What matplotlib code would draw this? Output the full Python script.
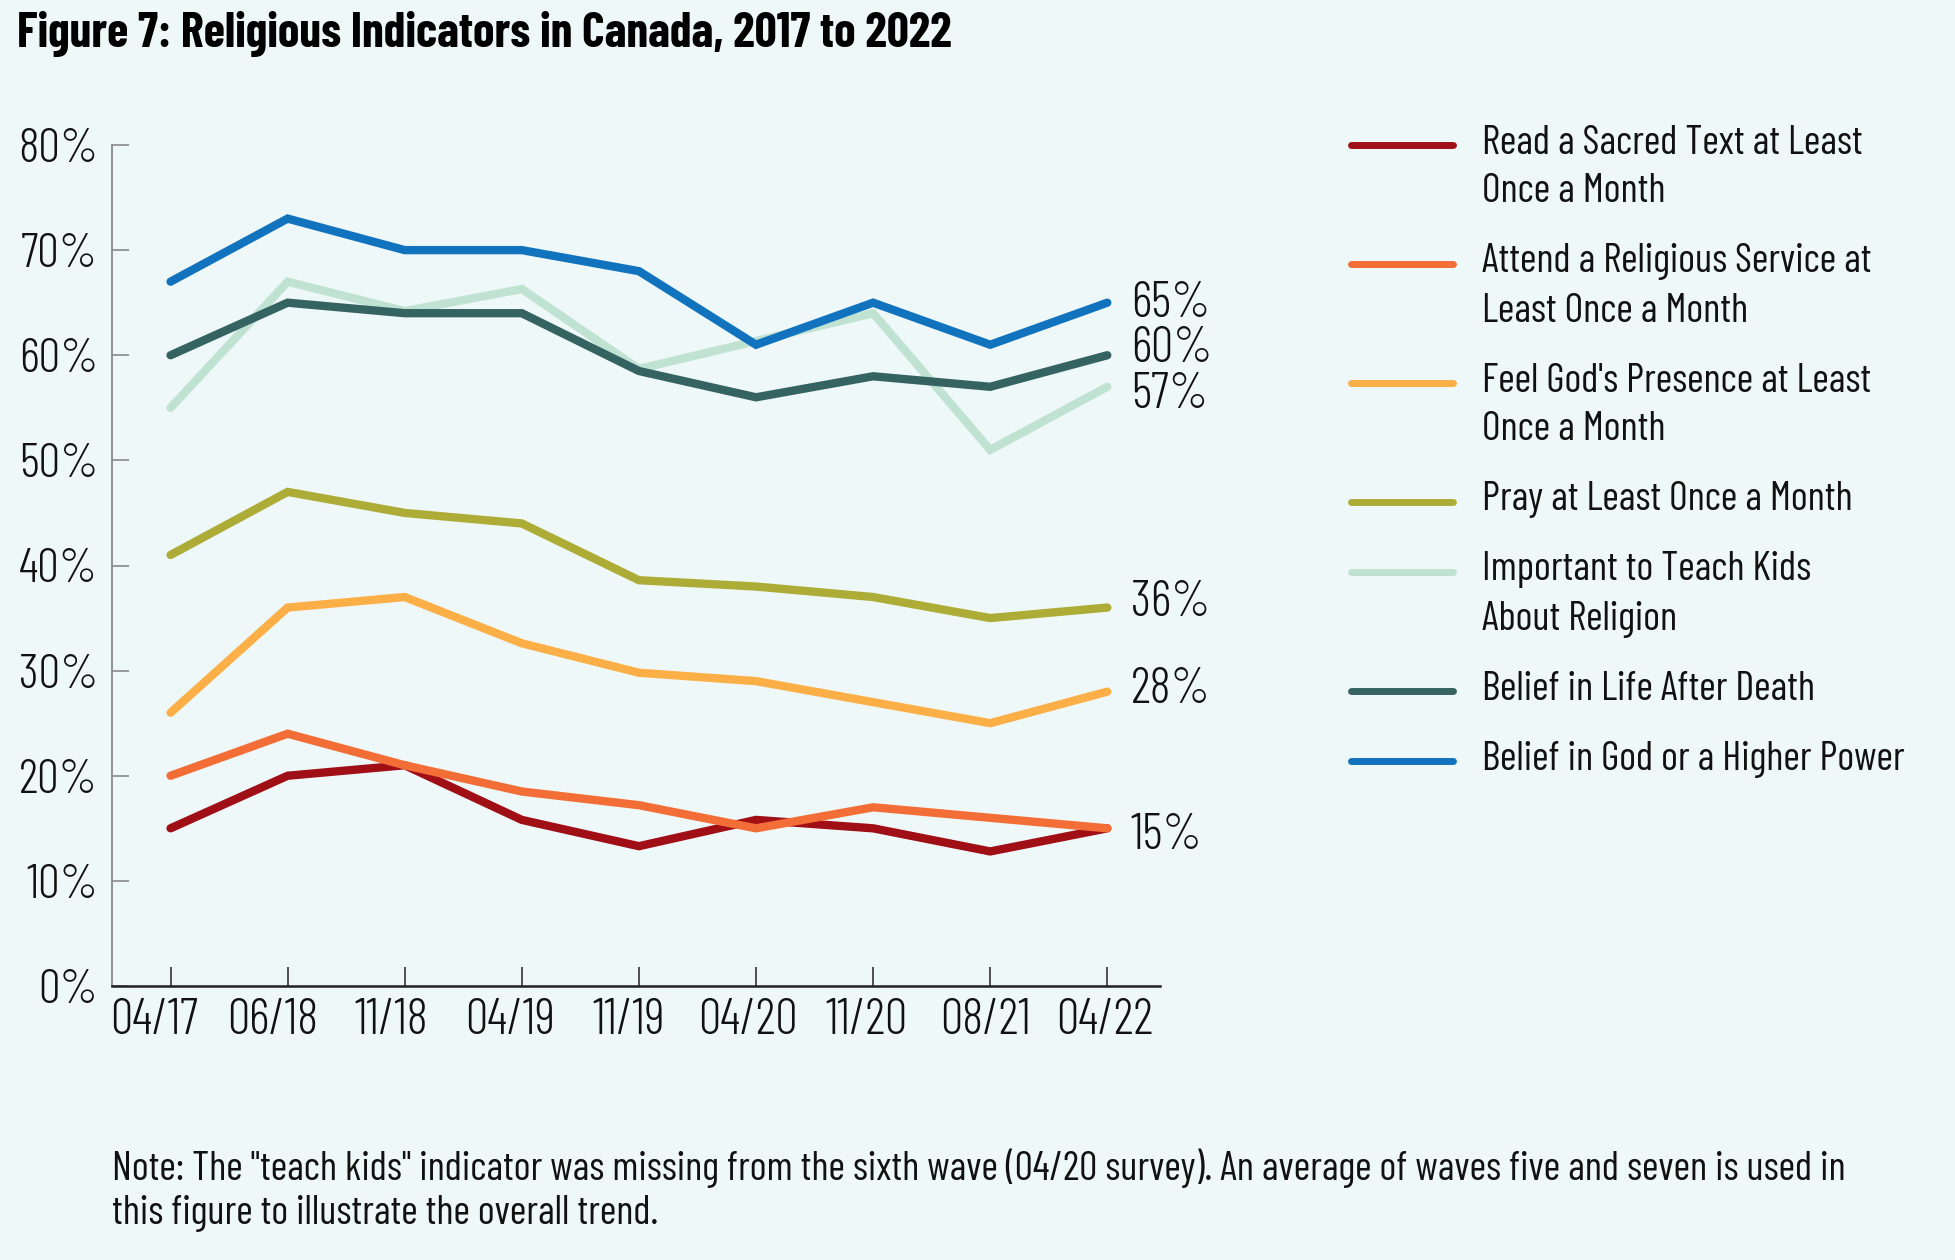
import matplotlib
matplotlib.use('Agg')
import matplotlib.pyplot as plt
from matplotlib.lines import Line2D
from matplotlib.transforms import ScaledTranslation

# survey waves
waves = ['04/17', '06/18', '11/18', '04/19', '11/19', '04/20', '11/20', '08/21', '04/22']

# % of Canadians
read_text = [15, 20, 21, 15.8, 13.3, 15.8, 15, 12.8, 15]
attend_service = [20, 24, 21, 18.5, 17.2, 15, 17, 16, 15]
feel_presence = [26, 36, 37, 32.6, 29.8, 29, 27, 25, 28]
pray = [41, 47, 45, 44, 38.6, 38, 37, 35, 36]
teach_kids = [55, 67, 64.2, 66.3, 58.7, 61.35, 64, 51, 57]  # 04/20 = avg of waves 5 and 7
life_after_death = [60, 65, 64, 64, 58.5, 56, 58, 57, 60]
belief_god = [67, 73, 70, 70, 68, 61, 65, 61, 65]

labels = ["Read a Sacred Text at Least\nOnce a Month",
          "Attend a Religious Service at\nLeast Once a Month",
          "Feel God's Presence at Least\nOnce a Month",
          "Pray at Least Once a Month",
          "Important to Teach Kids\nAbout Religion",
          "Belief in Life After Death",
          "Belief in God or a Higher Power"]
series = [read_text, attend_service, feel_presence, pray, teach_kids, life_after_death, belief_god]
colors = ['#A00E16', '#F36E36', '#FBAF46', '#ADAC37', '#C0E2D2', '#356361', '#1173BD']

note = ('Note: The "teach kids" indicator was missing from the sixth wave (04/20 survey). '
        'An average of waves five and seven is used in\nthis figure to illustrate the overall trend.')

bg = '#EFF8F8'
font = 'Barlow Condensed'
W, H = 1956, 1260

fig = plt.figure(figsize=(W / 100, H / 100), dpi=100, facecolor=bg)
ax = fig.add_axes([112 / W, 1 - 986 / H, (1160 - 112) / W, (986 - 145) / H])
ax.set_facecolor(bg)

x = list(range(len(waves)))
for vals, c in zip(series, colors):
    ax.plot(x, vals, color=c, lw=6, solid_capstyle='round', solid_joinstyle='miter')

ax.set_xlim(-0.5, 8.45)
ax.set_ylim(0, 80)
ax.set_yticks(range(0, 81, 10))
ax.set_yticklabels(['%d%%' % v for v in range(0, 81, 10)])
ax.set_xticks(x)
ax.set_xticklabels(waves)

for s in ['top', 'right']:
    ax.spines[s].set_visible(False)
ax.spines['left'].set_color('#8a8a8a')
ax.spines['left'].set_linewidth(1.3)
ax.spines['bottom'].set_color('#222222')
ax.spines['bottom'].set_linewidth(1.8)

ax.tick_params(axis='y', direction='in', length=12, width=1.2, color='#8a8a8a', pad=10)
ax.tick_params(axis='x', direction='in', length=14, width=1.2, color='#333333', pad=9)
for t in ax.get_yticklabels():
    t.set_fontfamily(font)
    t.set_fontweight(300)
    t.set_fontsize(35)
    t.set_color('#111111')
# x labels sit a little left of their ticks in the original, more so at the start
n = len(waves)
for i, t in enumerate(ax.get_xticklabels()):
    t.set_fontfamily(font)
    t.set_fontweight(300)
    t.set_fontsize(36)
    t.set_color('#111111')
    dx = -0.03 - 0.017 * (n - 1 - i)
    t.set_transform(t.get_transform() + ScaledTranslation(dx, 0, fig.dpi_scale_trans))

# end-of-line value labels (one per distinct final value)
label_nudge = {65: 3, 60: 8, 57: -2, 36: 7, 28: 4.5, 15: -2}
seen = set()
for vals in series:
    v = vals[-1]
    if v in seen:
        continue
    seen.add(v)
    ax.annotate('%d%%' % v, xy=(x[-1], v), xytext=(17, label_nudge.get(v, 0)),
                textcoords='offset points', ha='left', va='center_baseline',
                fontsize=36, fontweight=300, family=font, color='#111111')

# legend on the right, one text per line so the handle sits on the first line
y = 145
for lab, c in zip(labels, colors):
    fig.add_artist(Line2D([1351 / W, 1453 / W], [1 - y / H, 1 - y / H], color=c, lw=5,
                          solid_capstyle='round', transform=fig.transFigure))
    for k, part in enumerate(lab.split('\n')):
        fig.text(1482 / W, 1 - (y + 8.5 + k * 49) / H, part, ha='left', va='baseline',
                 fontsize=29, family=font, color='#111111')
    y += lab.count('\n') * 49 + 49 + 21

fig.text(17 / W, 1 - 47 / H, 'Figure 7: Religious Indicators in Canada, 2017 to 2022',
         ha='left', va='baseline', fontsize=35, fontweight='bold', family=font, color='#000000')

for k, part in enumerate(note.split('\n')):
    fig.text(112 / W, 1 - (1180 + k * 44) / H, part, ha='left', va='baseline',
             fontsize=29, family=font, color='#111111')

fig.savefig('out.png', dpi=100, facecolor=bg)
